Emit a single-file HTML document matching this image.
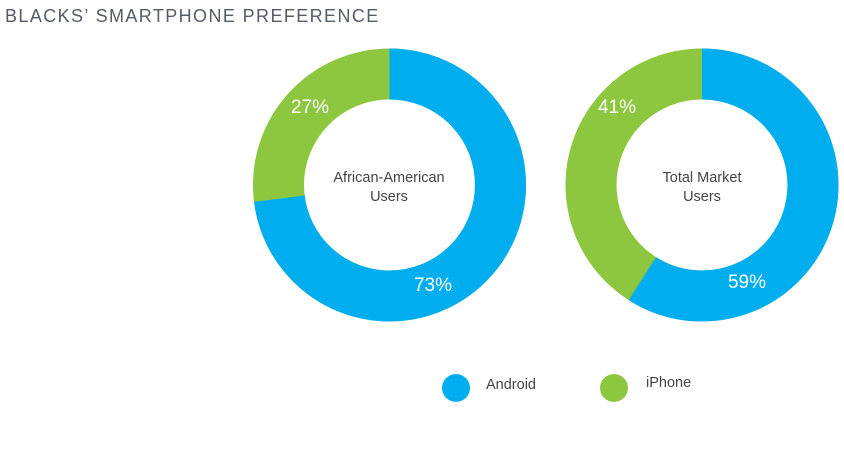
<!DOCTYPE html>
<html><head><style>
body{margin:0;background:#fff;width:844px;height:458px;overflow:hidden;font-family:"Liberation Sans",sans-serif;}
</style></head><body>
<svg width="844" height="458" xmlns="http://www.w3.org/2000/svg" style="position:absolute;left:0;top:0">
<text x="5" y="22" font-size="18" fill="#535c68" letter-spacing="1.4" font-family="Liberation Sans, sans-serif">BLACKS’ SMARTPHONE PREFERENCE</text>
<g transform="rotate(-90 389.5 185)">
<circle cx="389.5" cy="185" r="111" fill="none" stroke="#8dc63f" stroke-width="51"/>
<circle cx="389.5" cy="185" r="111" fill="none" stroke="#00aeef" stroke-width="51" stroke-dasharray="509.1 1000"/>
</g>
<g transform="rotate(-90 702 185)">
<circle cx="702" cy="185" r="111" fill="none" stroke="#8dc63f" stroke-width="51"/>
<circle cx="702" cy="185" r="111" fill="none" stroke="#00aeef" stroke-width="51" stroke-dasharray="411.5 1000"/>
</g>
<g fill="#fff" font-size="19" text-anchor="middle">
<text x="310" y="113">27%</text>
<text x="433" y="291">73%</text>
<text x="617" y="113">41%</text>
<text x="747" y="288">59%</text>
</g>
<g fill="#444" font-size="14.5" text-anchor="middle">
<text x="389" y="182">African-American</text>
<text x="389" y="201">Users</text>
<text x="702" y="182">Total Market</text>
<text x="702" y="201">Users</text>
</g>
<circle cx="456" cy="388" r="14" fill="#00aeef"/>
<text x="486" y="389" font-size="14.5" fill="#444">Android</text>
<circle cx="614" cy="388" r="14" fill="#8dc63f"/>
<text x="646" y="387" font-size="14.5" fill="#444">iPhone</text>
</svg>
</body></html>
